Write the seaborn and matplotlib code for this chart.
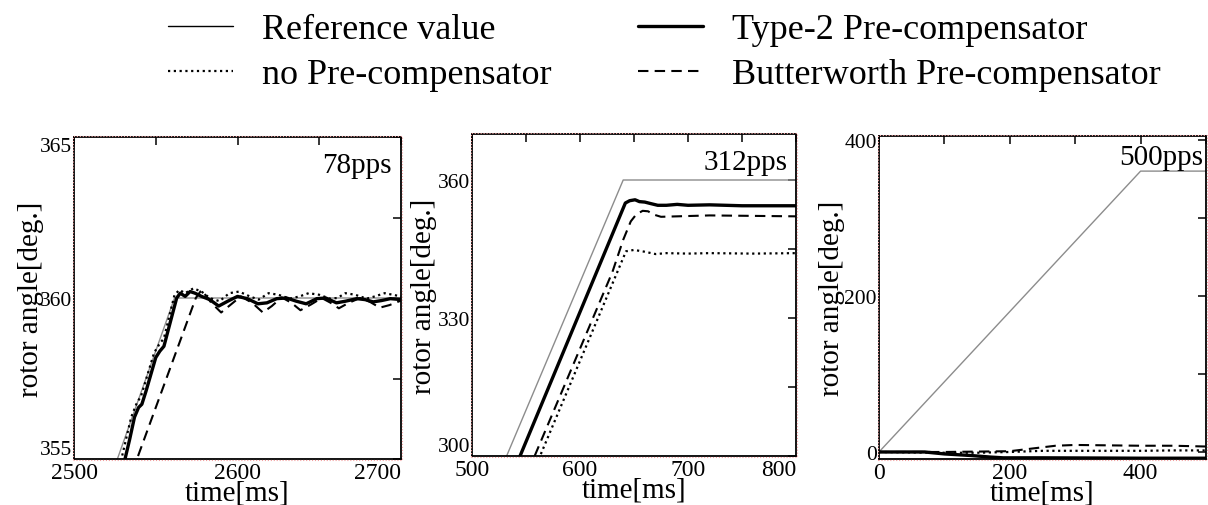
import matplotlib
matplotlib.use('Agg')
import matplotlib.pyplot as plt
import seaborn as sns
import numpy as np
import pandas as pd
from matplotlib.lines import Line2D
from matplotlib.ticker import MultipleLocator
import matplotlib.patches as mpatches

sns.set_style('white')
plt.rcParams['font.family'] = ['Liberation Serif', 'DejaVu Serif']
plt.rcParams['text.color'] = 'black'
plt.rcParams['axes.labelcolor'] = 'black'
plt.rcParams['xtick.color'] = 'black'
plt.rcParams['ytick.color'] = 'black'

# ---------------- data ----------------
labels = ["Reference value", "no Pre-compensator", "Type-2 Pre-compensator", "Butterworth Pre-compensator"]
panel_titles = ["78pps", "312pps", "500pps"]

# 78 pps
ref_78_t = [2515, 2561.5, 2700]
ref_78_a = [353.35, 360.0, 360.0]
type2_78_t = [2528.5, 2531.2, 2534, 2537, 2539.5, 2541.5, 2544, 2550, 2552.5, 2555, 2562.8, 2565, 2568,
              2571, 2574, 2578, 2583, 2588.5, 2594, 2600, 2606, 2612.5, 2618, 2624, 2630, 2636, 2642,
              2648.5, 2654, 2660.5, 2666, 2673, 2678, 2683, 2688, 2693.5, 2700]
type2_78_a = [354.6, 355.0, 355.6, 356.3, 356.6, 356.7, 357.1, 358.15, 358.35, 358.5, 360.0, 360.15, 360.05,
              360.2, 360.15, 360.05, 359.95, 359.75, 359.9, 360.05, 359.98, 359.82, 359.85, 359.98, 360.0, 359.9,
              359.82, 359.98, 360.0, 359.85, 359.9, 359.98, 359.95, 359.88, 359.92, 359.98, 359.95]
nopre_78_t = [2526, 2529, 2535, 2538.5, 2541, 2549, 2552, 2555, 2561.5, 2564.5, 2568, 2573, 2578, 2583,
              2589, 2595, 2601, 2607.5, 2613, 2619, 2625, 2632, 2638, 2643.5, 2650, 2656.5, 2661, 2666,
              2672, 2679, 2684, 2690, 2695, 2700]
nopre_78_a = [354.6, 355.0, 356.3, 356.75, 356.95, 358.3, 358.55, 358.75, 360.1, 360.25, 360.15, 360.3,
              360.2, 360.0, 359.9, 360.15, 360.2, 360.05, 359.95, 360.15, 360.1, 359.98, 360.05, 360.15,
              360.1, 359.98, 360.0, 360.15, 360.1, 359.98, 360.05, 360.15, 360.1, 360.05]
bw_78_t = [2536, 2538.5, 2574.5, 2578, 2584, 2590, 2596, 2602, 2609, 2615.5, 2621, 2627, 2633, 2638.5,
           2645, 2651.5, 2657, 2662, 2668, 2675, 2681, 2687, 2693, 2700]
bw_78_a = [354.6, 355.0, 360.0, 360.25, 359.85, 359.55, 359.8, 360.05, 359.85, 359.55, 359.75, 360.02,
           359.85, 359.62, 359.8, 360.0, 359.85, 359.68, 359.85, 360.0, 359.88, 359.7, 359.78, 359.92]

# 312 pps
ref_312_t = [520, 640, 800]
ref_312_a = [293.3, 360.0, 360.0]
type2_312_t = [530, 544.5, 642, 646, 651, 655, 660, 665, 672, 680, 690, 700, 720, 750, 800]
type2_312_a = [292.0, 300.0, 355.0, 355.5, 355.7, 355.3, 355.2, 354.9, 354.5, 354.5, 354.7, 354.5, 354.6, 354.4, 354.4]
nopre_312_t = [545, 563, 642.6, 650, 660, 670, 680, 700, 720, 760, 800]
nopre_312_a = [290.0, 300.0, 344.5, 344.8, 344.4, 343.9, 344.1, 344.0, 344.1, 344.0, 344.1]
bw_312_t = [540, 558, 630, 640, 647, 652, 658, 663, 668, 675, 690, 720, 760, 800]
bw_312_a = [290.0, 300.0, 340.0, 347.0, 351.0, 352.5, 353.3, 353.2, 352.5, 352.0, 352.1, 352.3, 352.2, 352.1]

# 500 pps
ref_500_t = [0, 400, 500]
ref_500_a = [0, 360, 360]
type2_500_t = [0, 70, 100, 140, 170, 190, 250, 350, 400, 500]
type2_500_a = [0, 0, -2.5, -4.5, -6.5, -7.5, -7.5, -7.8, -8, -8]
nopre_500_t = [0, 100, 150, 200, 250, 300, 350, 400, 450, 500]
nopre_500_a = [0, -1, -1, 0, 1.5, 1.5, 1.5, 1.5, 2, 2]
bw_500_t = [0, 100, 200, 230, 270, 300, 350, 400, 450, 500]
bw_500_a = [0, 0, 1, 4, 8, 9, 8.5, 8, 8, 7]

panels = [
    dict(ref=(ref_78_t, ref_78_a), nopre=(nopre_78_t, nopre_78_a), bw=(bw_78_t, bw_78_a),
         type2=(type2_78_t, type2_78_a)),
    dict(ref=(ref_312_t, ref_312_a), nopre=(nopre_312_t, nopre_312_a), bw=(bw_312_t, bw_312_a),
         type2=(type2_312_t, type2_312_a)),
    dict(ref=(ref_500_t, ref_500_a), nopre=(nopre_500_t, nopre_500_a), bw=(bw_500_t, bw_500_a),
         type2=(type2_500_t, type2_500_a)),
]

xlims = [(2500, 2700), (500, 800), (0, 500)]
ylims = [(355, 365), (300, 370), (-9, 405)]
xmajor = [[2500, 2600, 2700], [500, 600, 700, 800], [0, 200, 400]]
xminor = [50, 50, 100]
ymajor = [[355, 360, 365], [300, 330, 360], [0, 200, 400]]
yminor = [2.5, 15, 100]

# ---------------- styles ----------------
STY = {
    'ref': dict(color='#8c8c8c', linewidth=1.0, linestyle='-'),
    'nopre': dict(color='black', linewidth=1.6, linestyle=(0, (1, 1.6))),
    'bw': dict(color='black', linewidth=1.5, linestyle=(0, (5, 3))),
    'type2': dict(color='black', linewidth=2.4, linestyle='-'),
}

W, H = 1208, 506
fig = plt.figure(figsize=(W / 100, H / 100), dpi=100)
boxes = [(74, 401, 138, 460), (472, 796, 135, 457), (879, 1206, 137, 460)]
ylab_x = [-0.092, -0.108, -0.104]
title_pos = [(0.972, 0.891), (0.975, 0.891), (0.991, 0.913)]

for i, (x0, x1, y0, y1) in enumerate(boxes):
    ax = fig.add_axes([x0 / W, (H - y1) / H, (x1 - x0) / W, (y1 - y0) / H])
    p = panels[i]
    for key in ['ref', 'nopre', 'bw', 'type2']:
        t, a = p[key]
        sns.lineplot(x=t, y=a, ax=ax, sort=False, estimator=None, **STY[key])
    ax.set_xlim(*xlims[i])
    ax.set_ylim(*ylims[i])
    ax.set_xticks(xmajor[i])
    ax.set_xticklabels([str(v) for v in xmajor[i]])
    ax.set_yticks(ymajor[i])
    ax.set_yticklabels([str(v) for v in ymajor[i]])
    ax.xaxis.set_minor_locator(MultipleLocator(xminor[i]))
    ax.yaxis.set_minor_locator(MultipleLocator(yminor[i]))
    ax.tick_params(which='both', direction='in', top=True, right=True, length=6, width=1.1,
                   colors='black')
    ax.tick_params(axis='y', pad=1.5, labelsize=15.5)
    ax.tick_params(axis='x', pad=2, labelsize=17)
    for s in ax.spines.values():
        s.set_color('black')
        s.set_linewidth(1.3)
    ax.set_xlabel('time[ms]', fontsize=21, labelpad=-2.5)
    ax.set_ylabel('rotor angle[deg.]', fontsize=21)
    ax.yaxis.set_label_coords(ylab_x[i], 0.5)
    ax.text(title_pos[i][0], title_pos[i][1], panel_titles[i], transform=ax.transAxes,
            ha='right', va='baseline', fontsize=21)
    if i in (0, 1):
        plt.setp(ax.get_xticklabels()[-1], ha='right')
    if i == 0:
        plt.setp(ax.get_yticklabels()[-1], va='top')
        plt.setp(ax.get_yticklabels()[0], va='bottom')
    if i == 1:
        plt.setp(ax.get_yticklabels()[0], va='bottom')
    ax.grid(False)
    # faint red dotted frame around each panel
    fig.patches.append(mpatches.Rectangle(((x0 - 1) / W, (H - y1 - 1) / H), (x1 - x0 + 2) / W,
                                          (y1 - y0 + 2) / H, transform=fig.transFigure,
                                          fill=False, edgecolor='#f2a0a0', linewidth=0.8,
                                          linestyle=':', zorder=0))

handles = [
    Line2D([], [], color='black', linewidth=1.0, linestyle='-'),
    Line2D([], [], **STY['nopre']),
    Line2D([], [], **STY['type2']),
    Line2D([], [], **STY['bw']),
]
fig.legend(handles, labels, ncol=2, loc='upper left', bbox_to_anchor=(168 / W, 1 - 14 / H),
           frameon=False, fontsize=26, handlelength=1.8, handletextpad=0.8, columnspacing=2.4,
           labelspacing=0.33, borderpad=0, borderaxespad=0)

fig.savefig('out.png', dpi=100)
